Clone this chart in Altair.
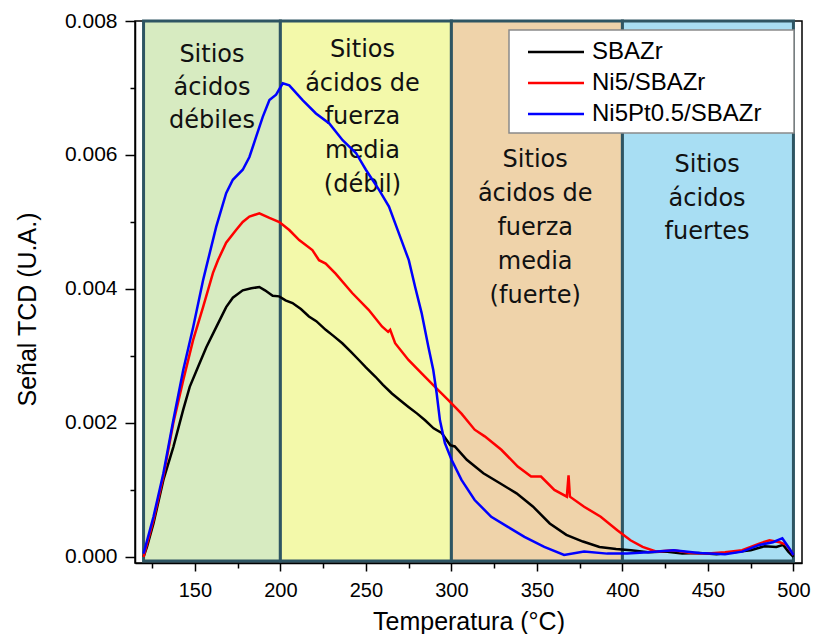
import altair as alt
import pandas as pd

# ---------------- data ----------------
series_names = ["SBAZr", "Ni5/SBAZr", "Ni5Pt0.5/SBAZr"]
series_colors = ["#000000", "#ff0000", "#0000ff"]

sbazr_t = [120, 122, 125.8, 131.6, 137.4, 143.2, 147, 151.9, 156.7, 162.5, 168.3, 172.2, 178, 183,
           187.7, 191, 195.5, 199.3, 203, 207.1, 212, 216.7, 221, 226.5, 231, 236.2, 241, 245.9,
           250, 255.6, 260, 265.2, 270, 274.9, 280, 284.6, 289.6, 294.3, 299.3, 302, 309, 318.7,
           328.4, 338.1, 347.8, 357.5, 367.2, 376.9, 386.6, 396.3, 405, 415, 425, 435, 445, 455,
           465, 475, 483, 490, 494, 497, 500]
sbazr_v = [0.0, 0.00015, 0.0005, 0.00115, 0.00164, 0.0022, 0.00254, 0.00284, 0.00313, 0.00343,
           0.00373, 0.00387, 0.00398, 0.00401, 0.00403, 0.00398, 0.0039, 0.00389, 0.00383, 0.00379,
           0.0037, 0.00359, 0.00352, 0.00339, 0.0033, 0.00319, 0.00307, 0.00294, 0.00283, 0.00269,
           0.00257, 0.00244, 0.00234, 0.00224, 0.00214, 0.00204, 0.00192, 0.00185, 0.00167, 0.00165,
           0.00145, 0.00125, 0.0011, 0.00095, 0.00075, 0.0005, 0.00033, 0.00023, 0.00015, 0.00012,
           0.0001, 0.00007, 0.00008, 0.00005, 0.00006, 0.00004, 0.00007, 0.0001, 0.00016, 0.00015,
           0.00018, 0.00008, 0.0]

ni5_t = [120, 125.8, 131.6, 137.4, 143.2, 149, 154.8, 160.6, 163.5, 168.3, 174.1, 178, 181.9,
         187.7, 193.6, 199.4, 205.2, 211, 218.7, 222.6, 226.5, 232.3, 242, 251.6, 259.4, 263,
         264.2, 267.1, 274.9, 282.6, 290.4, 298.2, 305.9, 313.6, 319.5, 329.2, 338.8, 346.6,
         352.4, 360.2, 367.5, 368.5, 369.3, 377.6, 387.3, 397, 404.7, 411.8, 420, 430, 440, 450,
         460, 470, 480, 486, 492, 496, 500]
ni5_v = [0.0, 0.00055, 0.0012, 0.002, 0.00264, 0.00324, 0.00373, 0.00424, 0.00443, 0.00469,
         0.00488, 0.005, 0.00508, 0.00513, 0.00506, 0.005, 0.00488, 0.00473, 0.00458, 0.00443,
         0.00438, 0.00423, 0.00394, 0.00369, 0.00344, 0.00336, 0.00339, 0.00319, 0.00294, 0.00274,
         0.00254, 0.00234, 0.00214, 0.0019, 0.0018, 0.0016, 0.00135, 0.0012, 0.0012, 0.001,
         0.0009, 0.00122, 0.0009, 0.00075, 0.0006, 0.0004, 0.00025, 0.00015, 0.00008, 0.0001,
         0.00006, 0.00005, 0.00007, 0.0001, 0.0002, 0.00025, 0.00022, 0.00018, 0.00003]

ni5pt_t = [120, 125.8, 131.6, 137.4, 143.2, 149, 154.8, 156.7, 162.5, 168.3, 172.2, 178, 181.9,
           185.8, 189.7, 193.6, 197.5, 201.4, 205.2, 213, 220.8, 228.6, 236.4, 244.2, 250, 257.7,
           263.5, 269.3, 275.1, 278.8, 282.6, 286.5, 289.4, 291.4, 293.3, 296.2, 300.1, 305.9,
           313.6, 323.3, 333, 342.7, 354.3, 365.9, 377.6, 391.1, 402.7, 415, 430, 445, 460, 470,
           480, 488, 493.5, 497, 500]
ni5pt_v = [0.00005, 0.0006, 0.00125, 0.00204, 0.00279, 0.00343, 0.00413, 0.00433, 0.00493,
           0.00543, 0.00563, 0.00578, 0.00597, 0.00627, 0.00657, 0.00682, 0.0069, 0.00707,
           0.00704, 0.00682, 0.00662, 0.00647, 0.00622, 0.00603, 0.00578, 0.00548, 0.00523,
           0.00483, 0.00443, 0.00403, 0.00364, 0.00314, 0.00279, 0.00244, 0.00204, 0.0017,
           0.00145, 0.00115, 0.00085, 0.0006, 0.00045, 0.0003, 0.00015, 0.00003, 0.00008,
           0.00005, 0.00005, 0.00007, 0.0001, 0.00006, 0.00004, 0.00008, 0.00018, 0.00022,
           0.00028, 0.00015, 0.00003]

# temperature zones
band_start = [120, 200, 300, 400]
band_end = [200, 300, 400, 500]
band_fill = ["#d7ebc1", "#f3f9aa", "#efd3aa", "#a8def3"]

# zone labels: (temperature, signal level, text)
zone_x = [160, 160, 160,
          248, 248, 248, 248, 248,
          349, 349, 349, 349, 349,
          449.5, 449.5, 449.5]
zone_y = [0.00749, 0.00700, 0.00651,
          0.00757, 0.00706, 0.00656, 0.00606, 0.00555,
          0.00592, 0.00542, 0.00491, 0.00440, 0.00390,
          0.00585, 0.00534, 0.00485]
zone_text = ["Sitios", "ácidos", "débiles",
             "Sitios", "ácidos de", "fuerza", "media", "(débil)",
             "Sitios", "ácidos de", "fuerza", "media", "(fuerte)",
             "Sitios", "ácidos", "fuertes"]

x_major = [150, 200, 250, 300, 350, 400, 450, 500]
x_minor = [125, 175, 225, 275, 325, 375, 425, 475]
y_major = [0.000, 0.002, 0.004, 0.006, 0.008]
y_minor = [0.001, 0.003, 0.005, 0.007]

# ---------------- tables ----------------
rows = []
for name, ts, vs in zip(series_names, [sbazr_t, ni5_t, ni5pt_t], [sbazr_v, ni5_v, ni5pt_v]):
    for t, v in zip(ts, vs):
        rows.append({"serie": name, "T": t, "S": v})
curves = pd.DataFrame(rows)

bands = pd.DataFrame({"start": band_start, "end": band_end, "fill": band_fill,
                      "top": [0.008] * 4, "bottom": [-0.00006] * 4})
zones = pd.DataFrame({"x": zone_x, "y": zone_y, "t": zone_text})
legend_df = pd.DataFrame({"serie": series_names, "ly": [31, 62, 93]})

W, H = 667, 542
xs = alt.Scale(domain=[115, 505], nice=False, zero=False)
ys = alt.Scale(domain=[-0.00009, 0.008], nice=False, zero=False)
cs = alt.Scale(domain=series_names, range=series_colors)

FONT = "Liberation Sans"

minor_x_axis = alt.Axis(values=x_minor, orient="bottom", labels=False, title=None,
                        tickSize=5, tickWidth=1.5, tickColor="black", domain=False, grid=False)
minor_y_axis = alt.Axis(values=y_minor, orient="left", labels=False, title=None,
                        tickSize=5, tickWidth=1.5, tickColor="black", domain=False, grid=False)

band_layer = alt.Chart(bands).mark_rect(stroke="#2e5563", strokeWidth=3).encode(
    x=alt.X("start:Q", scale=xs, axis=minor_x_axis),
    x2="end:Q",
    y=alt.Y("top:Q", scale=ys, axis=minor_y_axis),
    y2="bottom:Q",
    fill=alt.Fill("fill:N", scale=None),
)

zone_layer = alt.Chart(zones).mark_text(font="DejaVu Sans", fontSize=24, color="#111111",
                                        baseline="middle", align="center").encode(
    x=alt.X("x:Q", scale=xs, axis=None),
    y=alt.Y("y:Q", scale=ys, axis=None),
    text="t:N",
)

line_layer = alt.Chart(curves).mark_line(strokeWidth=2.5, clip=True).encode(
    x=alt.X("T:Q", scale=xs,
            axis=alt.Axis(values=x_major, orient="bottom", title="Temperatura (°C)",
                          labelFontSize=20, labelFont=FONT, labelColor="black",
                          labelPadding=9, tickSize=8, tickWidth=1.5, tickColor="black",
                          domainColor="black", domainWidth=1.5, grid=False,
                          titleFont=FONT, titleFontSize=25, titleFontWeight="normal",
                          titleColor="black", titleY=58, titleBaseline="middle")),
    y=alt.Y("S:Q", scale=ys,
            axis=alt.Axis(values=y_major, format=".3f", orient="left", title="Señal TCD (U.A.)",
                          labelFontSize=21, labelFont=FONT, labelColor="black",
                          labelPadding=8, tickSize=10, tickWidth=1.5, tickColor="black",
                          domainColor="black", domainWidth=1.5, grid=False,
                          titleFont=FONT, titleFontSize=25, titleFontWeight="normal",
                          titleColor="black", titleX=-108, titleY=288,
                          titleBaseline="middle")),
    color=alt.Color("serie:N", scale=cs, legend=None),
    detail="serie:N",
)

legend_box = alt.Chart(pd.DataFrame({"a": [0]})).mark_rect(
    fill="white", stroke="#8a8a8a", strokeWidth=1.5).encode(
    x=alt.value(W - 293), x2=alt.value(W - 8), y=alt.value(9), y2=alt.value(112))

legend_lines = alt.Chart(legend_df).mark_rule(strokeWidth=2.5).encode(
    x=alt.value(W - 274), x2=alt.value(W - 218),
    y=alt.Y("ly:Q", scale=None, axis=None),
    color=alt.Color("serie:N", scale=cs, legend=None),
)

legend_text = alt.Chart(legend_df).mark_text(font=FONT, fontSize=24, align="left",
                                             baseline="middle", color="black").encode(
    x=alt.value(W - 210),
    y=alt.Y("ly:Q", scale=None, axis=None),
    text="serie:N",
)

chart = alt.layer(band_layer, zone_layer, line_layer, legend_box, legend_lines, legend_text).resolve_axis(
    x="independent", y="independent"
).properties(
    width=W, height=H,
    autosize="none",
    padding={"left": 127, "top": 13, "right": 9, "bottom": 71},
).configure_view(stroke="black", strokeWidth=1.5)

chart.save("out.html", embed_options={"renderer": "svg", "actions": False})
